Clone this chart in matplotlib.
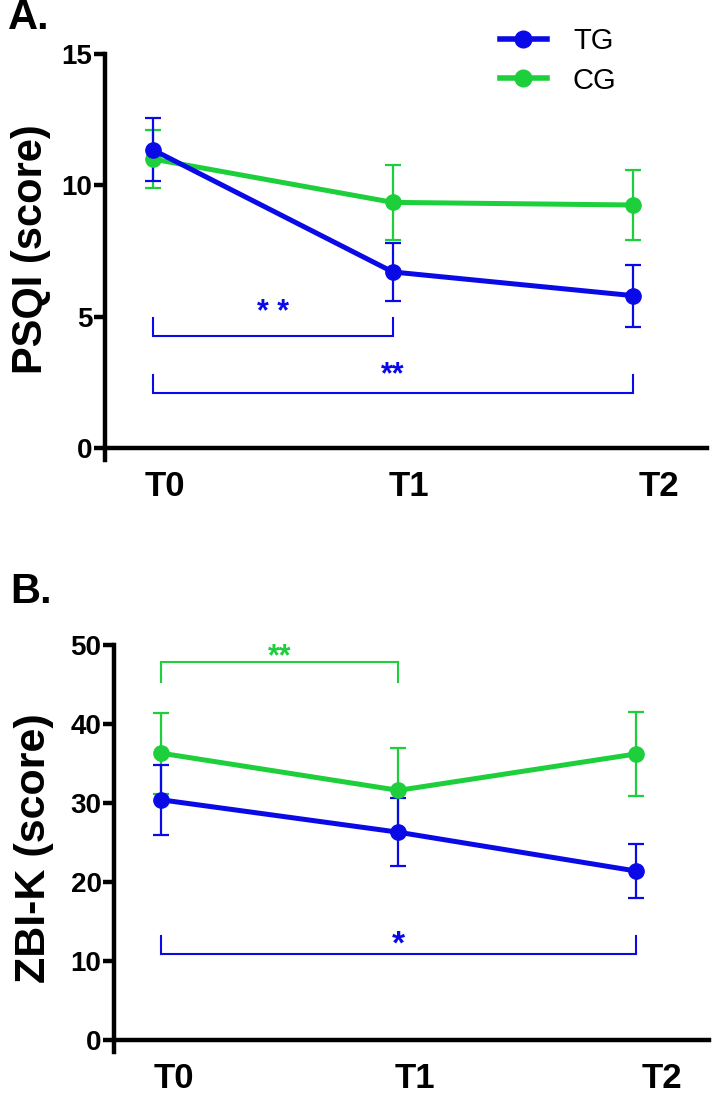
import matplotlib
matplotlib.use("Agg")
import matplotlib.pyplot as plt
import matplotlib.transforms as mtransforms
from matplotlib.lines import Line2D
import numpy as np

# ---------------- data ----------------
timepoints = ["T0", "T1", "T2"]
groups = ["TG", "CG"]

psqi_tg_mean = [11.35, 6.7, 5.8]
psqi_tg_err = [1.2, 1.1, 1.18]
psqi_cg_mean = [11.0, 9.35, 9.25]
psqi_cg_err = [1.1, 1.42, 1.33]

zbi_tg_mean = [30.4, 26.3, 21.4]
zbi_tg_err = [4.4, 4.3, 3.4]
zbi_cg_mean = [36.3, 31.6, 36.2]
zbi_cg_err = [5.1, 5.4, 5.3]

psqi_ticks = [0, 5, 10, 15]
zbi_ticks = [0, 10, 20, 30, 40, 50]

BLUE = "#0A0AE6"
GREEN = "#1ECF3C"
COLORS = {"TG": BLUE, "CG": GREEN}

plt.rcParams["font.family"] = ["Liberation Sans", "DejaVu Sans"]

W, H = 712, 1095
fig = plt.figure(figsize=(W / 100, H / 100), dpi=100)


def ax_rect(left_px, right_px, top_px, bottom_px):
    return [left_px / W, 1 - bottom_px / H, (right_px - left_px) / W, (bottom_px - top_px) / H]


tick_font = dict(family=["Liberation Sans Narrow", "Liberation Sans"], weight="bold")
label_offsets_px = [12, 16, 26]


def style_axes(ax, yticks, ymax, yext, ylabel, ylabel_size):
    x = np.arange(len(timepoints))
    ax.set_xlim(-0.2, 2.31)
    ax.set_ylim(-yext, ymax)
    for s in ["top", "right"]:
        ax.spines[s].set_visible(False)
    ax.spines["bottom"].set_position(("data", 0))
    for s in ["left", "bottom"]:
        ax.spines[s].set_linewidth(3.2)
    ax.spines["left"].set_bounds(-yext, ymax)
    ax.set_yticks(yticks)
    ax.set_yticklabels([str(t) for t in yticks], fontsize=20, **tick_font)
    ax.tick_params(axis="y", length=8, width=3.2, pad=1)
    ax.set_xticks(x)
    ax.set_xticklabels(timepoints, fontsize=25, **tick_font)
    ax.tick_params(axis="x", length=0, pad=16)
    for lab, dx in zip(ax.get_xticklabels(), label_offsets_px):
        off = mtransforms.ScaledTranslation(dx / 100, 0, fig.dpi_scale_trans)
        lab.set_transform(lab.get_transform() + off)
    ax.set_ylabel(ylabel, fontsize=ylabel_size, fontweight="bold")


def draw_series(ax, means, errs, color, label):
    x = np.arange(len(timepoints))
    ax.errorbar(x, means, yerr=errs, color=color, lw=3.6, marker="o", ms=11,
                elinewidth=1.6, capsize=6, capthick=1.6, label=label, zorder=3)


def bracket(ax, x0, x1, ybar, ytop, text, ytext, color, fs=22):
    ax.plot([x0, x0, x1, x1], [ytop, ybar, ybar, ytop], color=color, lw=1.5,
            solid_joinstyle="miter", zorder=2)
    ax.text((x0 + x1) / 2, ytext, text, color=color, ha="center", va="center",
            fontsize=fs, fontweight="bold")


# ---------------- Panel A ----------------
axA = fig.add_axes(ax_rect(105, 707, 54, 460))
draw_series(axA, psqi_cg_mean, psqi_cg_err, GREEN, "CG")
draw_series(axA, psqi_tg_mean, psqi_tg_err, BLUE, "TG")
style_axes(axA, psqi_ticks, 15, 0.46, "PSQI (score)", 30)
axA.yaxis.set_label_coords(-0.09, 0.52)
bracket(axA, 0, 1, 4.25, 4.95, "* *", 5.15, BLUE)
bracket(axA, 0, 2, 2.1, 2.78, "**", 2.75, BLUE)
handles = [Line2D([], [], color=COLORS[g], lw=4, marker="o", ms=12) for g in groups]
axA.legend(handles, groups, loc="upper left", bbox_to_anchor=(500 / W, 1 - 27 / H),
           bbox_transform=fig.transFigure, frameon=False, fontsize=21,
           handlelength=1.6, handletextpad=0.9, labelspacing=0.4, borderpad=0, borderaxespad=0)

# ---------------- Panel B ----------------
axB = fig.add_axes(ax_rect(114, 709, 645, 1052))
draw_series(axB, zbi_cg_mean, zbi_cg_err, GREEN, "CG")
draw_series(axB, zbi_tg_mean, zbi_tg_err, BLUE, "TG")
style_axes(axB, zbi_ticks, 50, 1.52, "ZBI-K (score)", 31)
axB.yaxis.set_label_coords(-0.1, 0.5)
bracket(axB, 0, 1, 47.8, 45.3, "**", 48.5, GREEN)
bracket(axB, 0, 2, 10.9, 13.2, "*", 12.0, BLUE, fs=24)

fig.text(8 / W, 1 - 18 / H, "A.", fontsize=30, fontweight="bold", va="center", ha="left")
fig.text(10 / W, 1 - 592 / H, "B.", fontsize=30, fontweight="bold", va="center", ha="left")

fig.savefig("out.png", dpi=100)
